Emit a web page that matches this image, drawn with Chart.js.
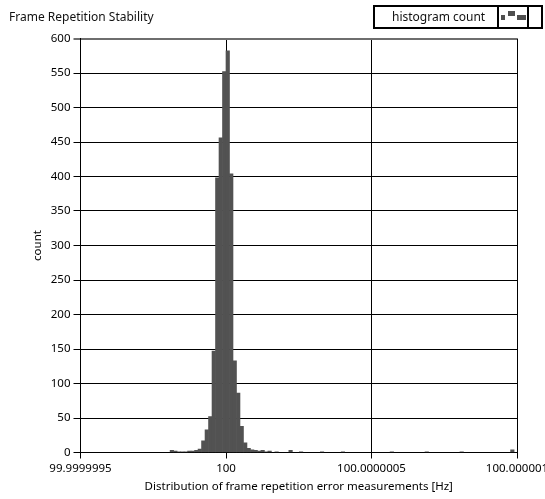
<!DOCTYPE html>
<html>
<head>
<meta charset="utf-8">
<script src="https://cdn.jsdelivr.net/npm/chart.js@4.4.0/dist/chart.umd.min.js"></script>
<style>
  html, body { margin: 0; padding: 0; background: #fff; overflow: hidden; }
  #wrap { position: relative; width: 545px; height: 499px; overflow: hidden; background: #fff; }
  #c { position: absolute; left: 0; top: 0; }
  #title { position: absolute; left: 9px; top: 8px; font: 12px "Noto Sans", sans-serif; color: #111; white-space: nowrap; }
  #legend { position: absolute; left: 373px; top: 5px; width: 166px; height: 20px; border: 2px solid #000; background: #fff; }
  #legend .txt { position: absolute; left: 17px; top: 1px; font: 12px "Noto Sans", sans-serif; color: #111; white-space: nowrap; }
  #legend .sw { position: absolute; left: 122px; top: 0; width: 28px; height: 20px; border-left: 2px solid #000; border-right: 2px solid #000; background: #fff; }
  #legend .sq { position: absolute; background: #4f4f4f; }
</style>
</head>
<body>
<div id="wrap">
  <canvas id="c" width="557" height="499" style="width:557px;height:499px"></canvas>
  <div id="title">Frame Repetition Stability</div>
  <div id="legend">
    <span class="txt">histogram count</span>
    <div class="sw">
      <div class="sq" style="left:2px;top:8px;width:4px;height:5px"></div>
      <div class="sq" style="left:9px;top:4px;width:7px;height:5px"></div>
      <div class="sq" style="left:18px;top:8px;width:9px;height:5px"></div>
    </div>
  </div>
</div>
<script>
// Histogram bins: centre of each bin as offset from 100 Hz, in nano-hertz (1e-9 Hz)
const binCenters = [-186, -174, -162, -150, -138, -126, -114, -102, -90, -78, -66, -54, -42, -30, -18, -6,
                    6, 18, 30, 42, 54, 66, 78, 90, 102, 114, 126, 138, 150, 174, 222, 258, 330, 402, 570, 690, 810, 984];
const counts     = [3, 2, 1, 1, 1, 2, 2, 3, 5, 17, 33, 52, 147, 398, 456, 552,
                    582, 404, 133, 86, 38, 14, 6, 4, 3, 2, 3, 1, 2, 1, 3, 1, 1, 1, 1, 1, 1, 4];
// X axis tick positions (nHz offset) and their labels in Hz
const xTickValues = [-500, 0, 500, 1000];
const xTickLabels = ['99.9999995', '100', '100.0000005', '100.000001'];
const yMin = 0, yMax = 600, yStep = 50;

const chartTitleX = 'Distribution of frame repetition error measurements [Hz]';
const chartTitleY = 'count';

Chart.defaults.font.family = '"Noto Sans", sans-serif';
Chart.defaults.font.size = 11.5;
Chart.defaults.color = '#000';

const points = binCenters.map((c, i) => ({ x: c, y: counts[i] }));

new Chart(document.getElementById('c'), {
  type: 'bar',
  data: {
    datasets: [{
      label: 'histogram count',
      data: points,
      backgroundColor: '#525252',
      borderWidth: 0,
      barPercentage: 1,
      categoryPercentage: 1
    }]
  },
  options: {
    responsive: false,
    animation: false,
    layout: { padding: { top: 38.5, right: 40, bottom: 0, left: 0 } },
    plugins: { legend: { display: false }, title: { display: false }, tooltip: { enabled: false } },
    scales: {
      x: {
        type: 'linear',
        offset: false,
        min: xTickValues[0],
        max: xTickValues[xTickValues.length - 1],
        afterBuildTicks: (s) => { s.ticks = xTickValues.map(v => ({ value: v })); },
        ticks: {
          padding: 3,
          autoSkip: false,
          maxRotation: 0,
          callback: (v) => { const i = xTickValues.indexOf(v); return i >= 0 ? xTickLabels[i] : ''; }
        },
        grid: { offset: false, color: '#000', lineWidth: 1, tickLength: 6 },
        border: { color: '#000', width: 1 },
        title: { display: true, text: chartTitleX, font: { size: 11.5 }, padding: { top: 0, bottom: 5 } },
        afterFit: (s) => { s.height = 46.5; }
      },
      y: {
        min: yMin,
        max: yMax,
        ticks: { stepSize: yStep, padding: 3 },
        grid: {
          color: (ctx) => (ctx.tick && ctx.tick.value === yMax) ? '#6e6e6e' : '#000',
          lineWidth: (ctx) => (ctx.tick && ctx.tick.value === yMax) ? 2 : 1,
          tickLength: 7
        },
        border: { color: '#000', width: 1 },
        title: { display: true, text: chartTitleY, font: { size: 11.5 }, padding: { top: 31, bottom: 0 } },
        afterFit: (s) => { s.width = 80.5; }
      }
    }
  }
});
</script>
</body>
</html>
